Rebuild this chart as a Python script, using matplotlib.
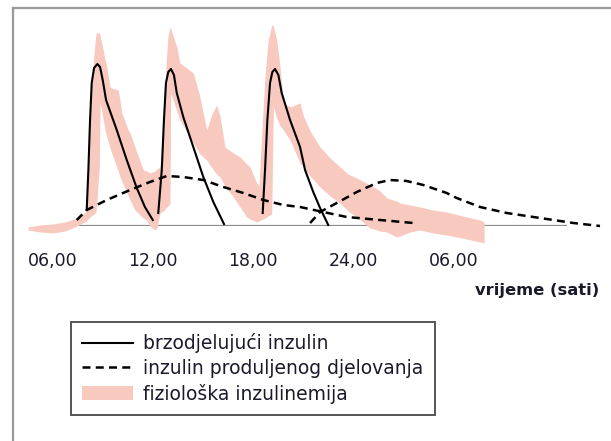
import numpy as np
import matplotlib.pyplot as plt
from matplotlib.lines import Line2D
from matplotlib.patches import Patch

# vrijeme u satima (24+ = sljedeci dan), razina inzulina u proizvoljnim jedinicama
# brzodjelujuci inzulin - tri doze
brzi1_t = [8.01, 8.11, 8.21, 8.31, 8.45, 8.65, 8.81, 8.97, 9.17, 9.81, 10.41, 11.01, 11.50, 11.97]
brzi1_v = [16, 56, 106, 143, 158, 162, 159, 146, 126, 96, 66, 38, 19, 6]
brzi2_t = [12.30, 12.51, 12.64, 12.76, 12.90, 13.06, 13.24, 13.41, 13.80, 14.40, 15.00, 15.60, 16.24]
brzi2_v = [13, 56, 106, 143, 154, 157, 151, 133, 109, 79, 49, 24, 2]
brzi3_t = [18.56, 18.70, 18.84, 19.00, 19.14, 19.30, 19.50, 19.70, 20.20, 20.80, 21.10, 21.59, 22.00, 22.49]
brzi3_v = [13, 56, 106, 143, 154, 157, 151, 133, 106, 79, 56, 34, 18, 1]

# inzulin produljenog djelovanja - dvije doze
dugi1_t = [7.41, 8.01, 9.21, 10.61, 11.80, 12.81, 13.80, 15.00, 16.20, 17.40, 18.60, 19.80,
           20.80, 22.19, 23.60, 25.59, 27.59]
dugi1_v = [6, 16, 26, 36, 44, 50, 49, 46, 39, 33, 26, 21, 19, 14, 9, 6, 3]
dugi2_t = [21.40, 22.00, 23.00, 24.20, 25.40, 26.19, 27.19, 28.19, 29.59, 30.19, 31.59,
           33.19, 35.19, 37.18, 38.78]
dugi2_v = [3, 14, 23, 34, 43, 46, 45, 41, 33, 28, 19, 13, 8, 3, 0]

# fizioloska inzulinemija - pojas: (sat, donja granica, gornja granica)
fiz = [
    (4.49, -4, -1), (5.21, -6, 1), (5.99, -7, 2), (6.71, -5, 4), (7.43, 0, 8),
    (7.97, 5, 14), (8.15, 8, 70), (8.27, 10, 130), (8.45, 12, 173), (8.57, 14, 193),
    (8.77, 60, 193), (8.81, 123, 190), (8.91, 115, 183), (9.11, 96, 166), (9.17, 92, 163),
    (9.41, 78, 139), (9.51, 73, 138), (9.90, 55, 136), (10.01, 49, 125), (10.11, 45, 113),
    (10.50, 30, 96), (10.61, 26, 93), (10.90, 16, 79), (11.40, 8, 56), (11.61, 6, 55),
    (11.80, 0, 53), (12.10, -4, 55), (12.22, -2, 57), (12.40, 13, 59), (12.60, 15, 100),
    (12.76, 18, 160), (12.88, 20, 190), (13.00, 22, 199), (13.05, 133, 197), (13.41, 115, 179),
    (13.60, 106, 163), (14.40, 83, 153), (14.80, 72, 129), (15.20, 66, 96), (15.52, 58, 112),
    (15.80, 52, 121), (16.00, 49, 110), (16.30, 40, 79), (16.80, 29, 73), (17.20, 19, 69),
    (17.60, 9, 62), (17.80, 7, 59), (18.20, 4, 43), (18.34, 5, 40), (18.46, 6, 80),
    (18.70, 8, 150), (18.88, 10, 185), (19.10, 12, 201), (19.20, 119, 200), (19.40, 108, 186),
    (19.60, 100, 159), (19.80, 96, 123), (20.20, 86, 119), (20.80, 63, 123), (21.00, 59, 110),
    (21.40, 50, 95), (22.00, 39, 79), (22.60, 30, 68), (23.20, 23, 59), (23.68, 15, 52),
    (24.20, 9, 48), (25.00, -2, 41), (25.60, -5, 35), (26.00, -6, 28), (26.59, -11, 25),
    (26.79, -10, 23), (27.40, -6, 21), (28.00, -4, 19), (28.77, -7, 16), (29.59, -9, 14),
    (30.79, -13, 9), (31.59, -16, 6), (31.83, -17, 4),
]
fiz_t = [r[0] for r in fiz]
fiz_donja = [r[1] for r in fiz]
fiz_gornja = [r[2] for r in fiz]

osnovna_t = [6.2, 36.8]
tick_h = [6, 12, 18, 24, 30]
tick_lab = ['06,00', '12,00', '18,00', '24,00', '06,00']

ruzicasta = '#f7c9bf'

fig = plt.figure(figsize=(6.11, 4.41), dpi=100)
ax = fig.add_axes([0, 1 - 226/441, 1, 226/441])
ax.set_xlim(2.812, 39.44)
ax.set_ylim(0, 226)
for s in ax.spines.values():
    s.set_visible(False)
ax.set_yticks([])

ax.hlines(0, osnovna_t[0], osnovna_t[1], color='#8c8c8c', lw=1.6, zorder=1)
ax.fill_between(fiz_t, fiz_donja, fiz_gornja, color=ruzicasta, lw=0, zorder=2, clip_on=False)

for t, v in [(brzi1_t, brzi1_v), (brzi2_t, brzi2_v), (brzi3_t, brzi3_v)]:
    ax.plot(t, v, color='black', lw=1.5, zorder=3, clip_on=False)
for t, v in [(dugi1_t, dugi1_v), (dugi2_t, dugi2_v)]:
    ax.plot(t, v, color='black', lw=1.8, dashes=(3.2, 2.1), zorder=3, clip_on=False)

ax.set_xticks(tick_h)
ax.set_xticklabels(tick_lab, fontsize=12.5, color='#1a1a2a')
ax.tick_params(axis='x', length=0, pad=19)

fig.text(599/611, 1 - 291/441, 'vrijeme (sati)', ha='right', va='center',
         fontsize=11.8, fontweight='bold', color='#1a1a2a')

# okvir (vidljivi samo lijevi i gornji rub)
fig.add_artist(Line2D([13/611, 13/611], [0, 1 - 8/441], color='#999999', lw=1.6))
fig.add_artist(Line2D([13/611, 1], [1 - 8/441, 1 - 8/441], color='#999999', lw=1.6))

handles = [Line2D([], [], color='black', lw=1.5),
           Line2D([], [], color='black', lw=1.8, dashes=(3.2, 2.1)),
           Patch(facecolor=ruzicasta, edgecolor='none')]
labels = ['brzodjelujući inzulin', 'inzulin produljenog djelovanja', 'fiziološka inzulinemija']
leg = fig.legend(handles, labels, loc='upper left', bbox_to_anchor=(71/611, 1 - 322/441),
                 borderaxespad=0, fancybox=False, fontsize=13.5, handlelength=2.7,
                 handletextpad=0.55, labelspacing=0.3, borderpad=0.6, framealpha=1)
leg.get_frame().set_edgecolor('#555555')
leg.get_frame().set_linewidth(1.4)
for txt in leg.get_texts():
    txt.set_color('#1a1a2a')

fig.savefig('out.png', dpi=100)
